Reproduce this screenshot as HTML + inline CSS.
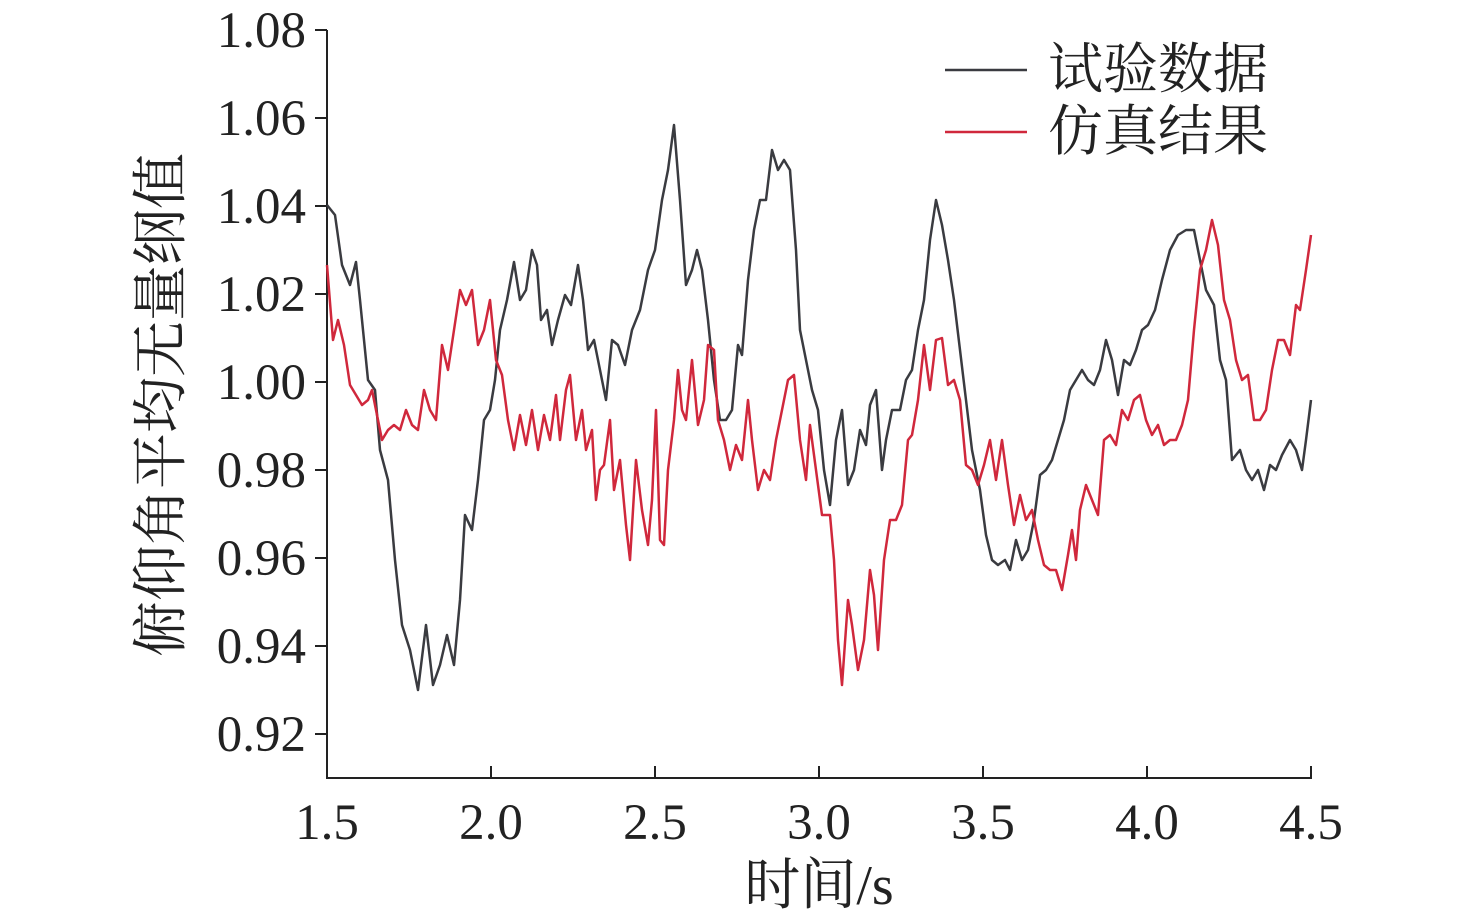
<!DOCTYPE html>
<html><head><meta charset="utf-8"><style>
html,body{margin:0;padding:0;background:#fff;}
svg{display:block;}
text{font-family:"Liberation Serif","Noto Serif CJK SC",serif;fill:#222;}
</style></head><body>
<svg width="1476" height="923" viewBox="0 0 1476 923" xmlns="http://www.w3.org/2000/svg">
<g stroke="#222" stroke-width="2" fill="none">
<line x1="327" y1="30" x2="327" y2="779"/>
<line x1="326" y1="778" x2="1312" y2="778"/>
<line x1="315" y1="30" x2="327" y2="30"/>
<line x1="315" y1="118" x2="327" y2="118"/>
<line x1="315" y1="206" x2="327" y2="206"/>
<line x1="315" y1="294" x2="327" y2="294"/>
<line x1="315" y1="382" x2="327" y2="382"/>
<line x1="315" y1="470" x2="327" y2="470"/>
<line x1="315" y1="558" x2="327" y2="558"/>
<line x1="315" y1="646" x2="327" y2="646"/>
<line x1="315" y1="734" x2="327" y2="734"/>
<line x1="491" y1="766" x2="491" y2="778"/>
<line x1="655" y1="766" x2="655" y2="778"/>
<line x1="819" y1="766" x2="819" y2="778"/>
<line x1="983" y1="766" x2="983" y2="778"/>
<line x1="1147" y1="766" x2="1147" y2="778"/>
<line x1="1311" y1="766" x2="1311" y2="778"/>
</g>
<g font-size="51" text-anchor="end">
<text x="306" y="47">1.08</text>
<text x="306" y="135">1.06</text>
<text x="306" y="223">1.04</text>
<text x="306" y="311">1.02</text>
<text x="306" y="399">1.00</text>
<text x="306" y="487">0.98</text>
<text x="306" y="575">0.96</text>
<text x="306" y="663">0.94</text>
<text x="306" y="751">0.92</text>
</g>
<g font-size="51" text-anchor="middle">
<text x="327" y="839">1.5</text>
<text x="491" y="839">2.0</text>
<text x="655" y="839">2.5</text>
<text x="819" y="839">3.0</text>
<text x="983" y="839">3.5</text>
<text x="1147" y="839">4.0</text>
<text x="1311" y="839">4.5</text>
</g>
<g font-size="56" text-anchor="middle">
<text x="819" y="904">时间/s</text>
<text transform="translate(180,405) rotate(-90)">俯仰角平均无量纲值</text>
</g>
<polyline fill="none" stroke="#3a3b40" stroke-width="2.5" stroke-linejoin="round" points="327,205 335,215 342,265 350,285 356,262 360,300 368,380 375,390 380,450 388,480 395,560 402,625 410,650 418,690 426,625 433,685 440,665 447,635 454,665 460,600 465,515 472,530 478,480 484,420 490,410 495,380 500,330 507,300 514,262 520,300 526,290 532,250 537,265 541,320 547,310 552,345 558,320 565,295 571,305 578,265 583,300 588,350 594,340 600,370 606,400 612,340 618,345 625,365 632,330 640,310 648,270 655,250 662,200 668,170 674,125 680,200 686,285 692,270 697,250 702,270 708,320 714,380 720,420 726,420 732,410 738,345 742,355 748,280 754,230 760,200 766,200 772,150 778,170 784,160 790,170 796,250 800,330 806,360 812,390 818,410 824,470 830,505 836,440 842,410 848,485 854,470 860,430 866,445 870,405 876,390 882,470 886,440 892,410 900,410 906,380 912,370 918,330 924,300 930,240 936,200 942,225 948,260 954,300 960,350 966,400 972,450 980,490 986,535 992,560 998,565 1005,560 1010,570 1016,540 1022,560 1028,550 1034,520 1040,475 1046,470 1052,460 1058,440 1064,420 1070,390 1076,380 1082,370 1088,380 1094,385 1100,370 1106,340 1112,360 1118,395 1124,360 1130,365 1136,350 1142,330 1148,325 1155,310 1162,280 1170,250 1178,235 1186,230 1194,230 1200,260 1206,290 1214,305 1220,360 1226,380 1232,460 1240,450 1246,470 1252,480 1258,470 1264,490 1270,465 1276,470 1282,455 1290,440 1296,450 1302,470 1306,440 1311,400"/>
<polyline fill="none" stroke="#d0283c" stroke-width="2.5" stroke-linejoin="round" points="327,265 333,340 338,320 344,345 350,385 356,395 362,405 368,400 372,390 378,420 382,440 388,430 394,425 400,430 406,410 412,425 418,430 424,390 430,410 436,420 442,345 448,370 454,330 460,290 466,305 472,290 478,345 484,330 490,300 496,360 502,375 508,420 514,450 520,415 526,445 532,410 538,450 544,415 550,440 556,395 560,440 566,390 570,375 576,440 582,410 586,450 592,430 596,500 600,470 604,465 610,420 614,490 620,460 626,525 630,560 636,460 642,510 648,545 652,500 656,410 660,540 664,545 668,470 674,420 678,370 682,410 686,420 692,360 698,425 704,400 708,345 714,350 718,420 724,440 730,470 736,445 742,460 748,400 752,440 758,490 764,470 770,480 776,440 782,410 788,380 794,375 800,440 806,480 810,425 816,470 822,515 830,515 834,560 838,640 842,685 848,600 852,625 858,670 864,640 870,570 874,595 878,650 884,560 890,520 896,520 902,505 908,440 912,435 918,400 924,345 930,390 936,340 942,338 948,385 954,380 960,400 966,465 972,470 978,485 984,465 990,440 996,480 1002,440 1008,485 1014,525 1020,495 1026,520 1032,510 1038,540 1044,565 1050,570 1056,570 1062,590 1068,555 1072,530 1076,560 1080,510 1086,485 1092,500 1098,515 1104,440 1110,435 1116,445 1122,410 1128,420 1134,400 1140,395 1146,420 1152,435 1158,425 1164,445 1170,440 1176,440 1182,425 1188,400 1194,330 1200,270 1206,250 1212,220 1218,245 1224,300 1230,320 1236,360 1242,380 1248,375 1254,420 1260,420 1266,410 1272,370 1278,340 1284,340 1290,355 1296,305 1300,310 1306,270 1311,235"/>
<line x1="945" y1="70" x2="1027" y2="70" stroke="#3a3b40" stroke-width="2.5"/>
<line x1="945" y1="132" x2="1027" y2="132" stroke="#d0283c" stroke-width="2.5"/>
<g font-size="55">
<text x="1048" y="88">试验数据</text>
<text x="1048" y="150">仿真结果</text>
</g>
</svg>
</body></html>
